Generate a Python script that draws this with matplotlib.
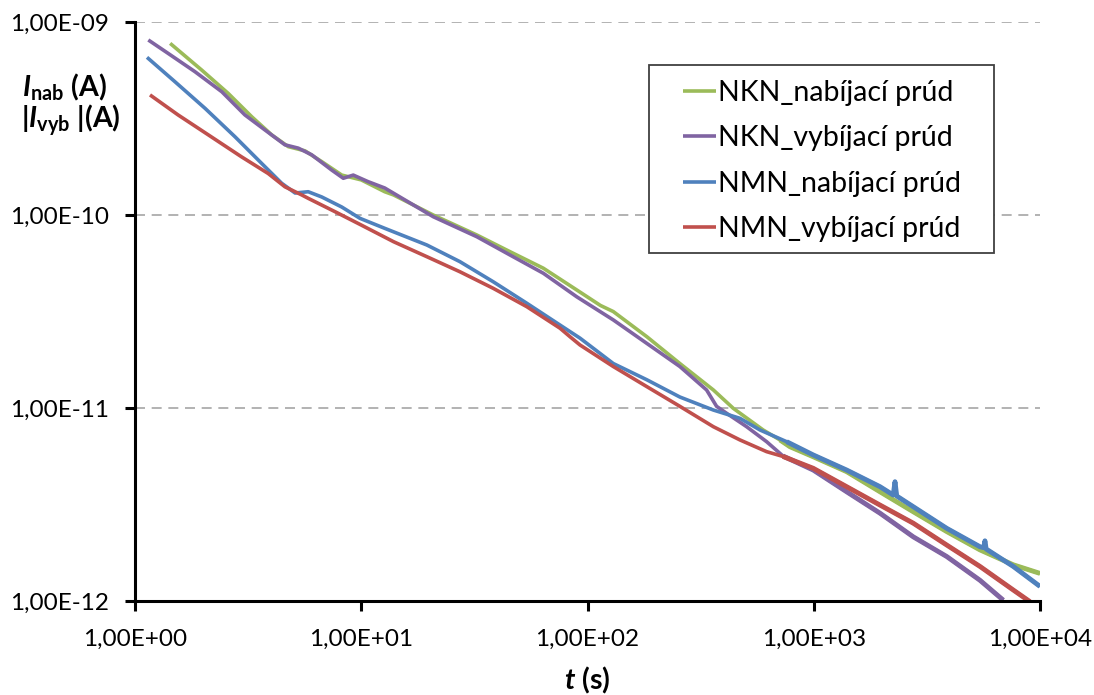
import matplotlib
matplotlib.use("Agg")
import matplotlib.pyplot as plt
from matplotlib.patches import Rectangle
from matplotlib.ticker import FixedLocator, FuncFormatter, NullLocator

# Time (s) and current (A) for each series
t_nkn_nab = [1.43, 1.97, 2.58, 3.28, 4.02, 4.76, 5.64, 6.69, 8.20, 10.0, 12.7, 13.9, 20.8,
             32.4, 45.5, 63.8, 89.6, 114, 130, 183, 256, 360, 441, 598, 709, 785, 995,
             1398, 1963, 2754, 3870, 5430, 7620, 10000]
i_nkn_nab = [7.75e-10, 5.64e-10, 4.27e-10, 3.23e-10, 2.60e-10, 2.26e-10, 2.15e-10, 1.89e-10,
             1.61e-10, 1.52e-10, 1.32e-10, 1.27e-10, 1.00e-10, 7.88e-11, 6.45e-11, 5.30e-11,
             4.09e-11, 3.40e-11, 3.16e-11, 2.34e-11, 1.70e-11, 1.24e-11, 9.96e-12, 7.69e-12,
             6.83e-12, 6.30e-12, 5.59e-12, 4.68e-12, 3.68e-12, 2.90e-12, 2.29e-12, 1.84e-12,
             1.54e-12, 1.39e-12]

t_nkn_vyb = [1.145, 1.40, 1.84, 2.42, 3.06, 3.75, 4.60, 5.27, 6.04, 7.40, 8.33, 9.22, 10.7,
             12.7, 20.8, 32.4, 45.5, 63.8, 89.6, 130, 183, 256, 336, 372, 412, 505, 619, 731,
             995, 1398, 1963, 2754, 3870, 5430, 6880]
i_nkn_vyb = [8.07e-10, 6.88e-10, 5.53e-10, 4.35e-10, 3.30e-10, 2.76e-10, 2.31e-10, 2.22e-10,
             2.05e-10, 1.71e-10, 1.55e-10, 1.61e-10, 1.49e-10, 1.38e-10, 9.80e-11, 7.72e-11,
             6.20e-11, 4.99e-11, 3.77e-11, 2.86e-11, 2.16e-11, 1.64e-11, 1.24e-11, 1.02e-11,
             9.39e-12, 8.00e-12, 6.69e-12, 5.64e-12, 4.77e-12, 3.68e-12, 2.85e-12, 2.15e-12,
             1.70e-12, 1.28e-12, 1.01e-12]

t_nmn_nab = [1.13, 1.50, 2.04, 2.77, 3.63, 4.45, 5.10, 5.83, 6.69, 8.20, 9.87, 12.7, 19.5,
             27.3, 38.3, 53.9, 75.6, 92.7, 130, 183, 256, 360, 472, 579, 759, 995, 1398,
             1963, 2246, 2286, 2326, 2754, 3870, 5430, 5640, 5710, 5780, 7620, 10000]
i_nmn_nab = [6.56e-10, 4.91e-10, 3.57e-10, 2.54e-10, 1.85e-10, 1.46e-10, 1.30e-10, 1.32e-10,
             1.24e-10, 1.10e-10, 9.61e-11, 8.53e-11, 6.99e-11, 5.73e-11, 4.51e-11, 3.49e-11,
             2.69e-11, 2.30e-11, 1.70e-11, 1.40e-11, 1.14e-11, 9.76e-12, 8.84e-12, 7.69e-12,
             6.69e-12, 5.71e-12, 4.77e-12, 3.91e-12, 3.54e-12, 4.15e-12, 3.50e-12, 3.08e-12,
             2.38e-12, 1.91e-12, 1.89e-12, 2.05e-12, 1.86e-12, 1.51e-12, 1.19e-12]

t_nmn_vyb = [1.165, 1.55, 2.11, 2.96, 3.88, 4.60, 5.46, 5.83, 7.66, 10.0, 13.9, 19.5, 27.3,
             38.3, 53.9, 75.6, 83.7, 92.7, 130, 183, 256, 360, 472, 619, 731, 995, 1398,
             1963, 2754, 3870, 5430, 7620, 9030]
i_nmn_vyb = [4.19e-10, 3.30e-10, 2.60e-10, 2.00e-10, 1.64e-10, 1.40e-10, 1.27e-10, 1.22e-10,
             1.04e-10, 8.87e-11, 7.27e-11, 6.08e-11, 5.08e-11, 4.17e-11, 3.35e-11, 2.59e-11,
             2.34e-11, 2.12e-11, 1.64e-11, 1.29e-11, 1.02e-11, 8.00e-12, 6.83e-12, 5.94e-12,
             5.61e-12, 4.87e-12, 3.91e-12, 3.14e-12, 2.53e-12, 1.95e-12, 1.51e-12, 1.14e-12,
             9.92e-13]

labels = ["NKN_nabíjací prúd", "NKN_vybíjací prúd", "NMN_nabíjací prúd", "NMN_vybíjací prúd"]
colors = ["#9BBB59", "#8064A2", "#4F81BD", "#C0504D"]

x_ticks = [1e0, 1e1, 1e2, 1e3, 1e4]
y_ticks = [1e-12, 1e-11, 1e-10, 1e-9]

FONT = "Lato"
plt.rcParams["font.family"] = [FONT, "DejaVu Sans"]
plt.rcParams["mathtext.fontset"] = "custom"
plt.rcParams["mathtext.rm"] = FONT
plt.rcParams["mathtext.bf"] = FONT + ":bold"
plt.rcParams["mathtext.it"] = FONT + ":italic"
plt.rcParams["mathtext.bfit"] = FONT + ":italic:bold"

W, H = 1094, 695
fig = plt.figure(figsize=(W / 100, H / 100), dpi=100)
ax = fig.add_axes([135 / W, 1 - 601 / H, (1040 - 135) / W, (601 - 22) / H])

series = [(t_nkn_nab, i_nkn_nab), (t_nkn_vyb, i_nkn_vyb),
          (t_nmn_nab, i_nmn_nab), (t_nmn_vyb, i_nmn_vyb)]
for (t, i), lab, c in zip(series, labels, colors):
    ax.plot(t, i, color=c, lw=2.6, label=lab, solid_capstyle="butt",
            solid_joinstyle="round")
    # the long-time part of each record is noisier, drawn a little heavier
    tail = [(tt, ii) for tt, ii in zip(t, i) if tt >= 700]
    ax.plot([p[0] for p in tail], [p[1] for p in tail], color=c, lw=3.5,
            solid_capstyle="butt", solid_joinstyle="round")

ax.set_xscale("log")
ax.set_yscale("log")
ax.set_xlim(1, 1e4)
ax.set_ylim(1e-12, 1e-9)

ax.xaxis.set_major_locator(FixedLocator(x_ticks))
ax.yaxis.set_major_locator(FixedLocator(y_ticks))
ax.xaxis.set_minor_locator(NullLocator())
ax.yaxis.set_minor_locator(NullLocator())


def sci_comma(v, pos):
    return "{:.2E}".format(v).replace(".", ",")


ax.xaxis.set_major_formatter(FuncFormatter(sci_comma))
ax.yaxis.set_major_formatter(FuncFormatter(sci_comma))

for sp in ["top", "right"]:
    ax.spines[sp].set_visible(False)
for sp in ["left", "bottom"]:
    ax.spines[sp].set_linewidth(2.2)
    ax.spines[sp].set_color("black")

ax.tick_params(axis="both", which="major", direction="out", length=7, width=2.2,
               labelsize=17.5, colors="black")
ax.tick_params(axis="y", pad=12)
ax.tick_params(axis="x", pad=13)

ax.grid(axis="y", which="major", color="#A6A6A6", linestyle=(0, (6, 4)), linewidth=1.2)
ax.set_axisbelow(True)

# Axis titles
fig.text(65 / W, 1 - 87 / H, r"$\mathbfit{I}_{\mathbf{nab}}$ (A)", ha="center",
         va="center", fontsize=20.5, fontweight="bold")
fig.text(71 / W, 1 - 120 / H, r"|$\mathbfit{I}_{\mathbf{vyb}}$ |(A)", ha="center",
         va="center", fontsize=20.5, fontweight="bold")
fig.text(587 / W, 1 - 680 / H, r"$\mathbfit{t}$ (s)", ha="center", va="center",
         fontsize=20.5, fontweight="bold")

# Legend box and entries
ax.add_patch(Rectangle((649 / W, 1 - 253 / H), (994 - 649) / W, (253 - 65) / H,
                       transform=fig.transFigure, facecolor="white", edgecolor="#404040",
                       linewidth=1.3, clip_on=False, zorder=4))
leg = ax.legend(loc="center left", bbox_to_anchor=(683 / W, 1 - 161 / H),
                bbox_transform=fig.transFigure, fontsize=20.5, frameon=False,
                handlelength=1.15, handletextpad=0.08, labelspacing=0.68, borderpad=0,
                borderaxespad=0)
leg.set_zorder(5)
for h in leg.get_lines():
    h.set_linewidth(2.6)

fig.savefig("out.png", dpi=100)
